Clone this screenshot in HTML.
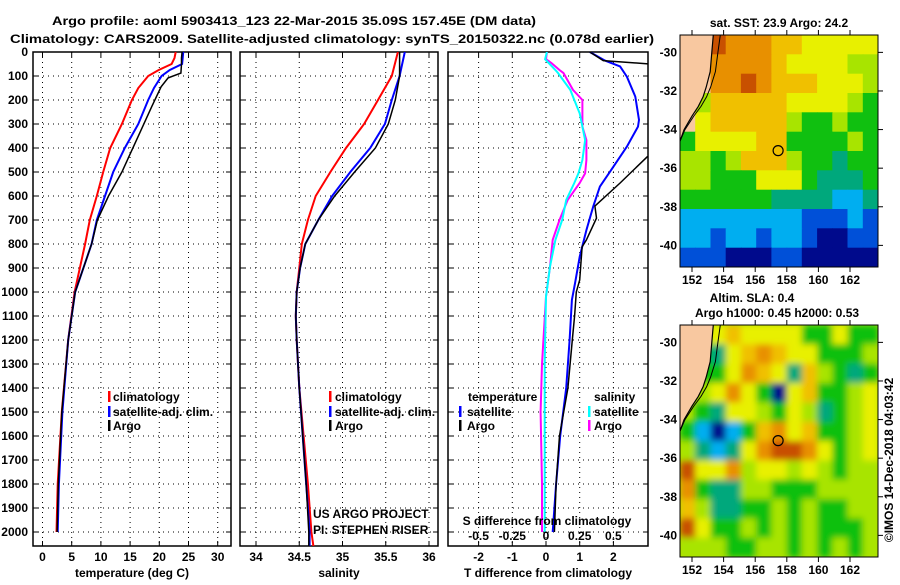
<!DOCTYPE html>
<html><head><meta charset="utf-8"><style>
body{margin:0;background:#fff}
svg text{font-family:"Liberation Sans",sans-serif;font-weight:bold;font-size:12px;fill:#000}
</style></head><body>
<svg id="c" width="900" height="580" xmlns="http://www.w3.org/2000/svg">
<defs>
<clipPath id="cp1"><rect x="33" y="52" width="198" height="494"/></clipPath>
<clipPath id="cp2"><rect x="240" y="52" width="198" height="494"/></clipPath>
<clipPath id="cp3"><rect x="448" y="52" width="200" height="494"/></clipPath>
<clipPath id="cm1"><rect x="680" y="35" width="198" height="232"/></clipPath>
<clipPath id="cm2"><rect x="680" y="325" width="198" height="232"/></clipPath>
<filter id="bl" x="-5%" y="-5%" width="110%" height="110%"><feGaussianBlur stdDeviation="3.2"/></filter>
</defs>
<text x="52" y="25" font-size="14" textLength="484" lengthAdjust="spacingAndGlyphs">Argo profile: aoml 5903413_123 22-Mar-2015 35.09S 157.45E (DM data)</text>
<text x="10" y="43" font-size="14" textLength="644" lengthAdjust="spacingAndGlyphs">Climatology: CARS2009. Satellite-adjusted climatology: synTS_20150322.nc (0.078d earlier)</text>
<g id="g"></g>
</svg>
<script>
// depth grids
const depthT = [0,25,50,75,100,150,200,300,400,500,600,700,800,1000,1200,1500,1800,2000];
const tempClim = [22.8,22.6,22.1,19.9,18.1,16.4,15.3,13.6,11.6,10.4,9.3,8.1,7.3,5.5,4.4,3.3,2.6,2.4];
const tempSat  = [24.1,24.0,23.9,21.8,20.4,19.1,18.1,16.4,14.1,12.1,10.7,9.3,8.4,5.6,4.4,3.4,2.8,2.6];
const depthArgo = [0,25,50,88,108,145,228,367,500,600,700,800,1000,1200,1500,1800,2000];
const tempArgo = [23.9,23.8,23.8,23.7,21.5,20.3,18.7,16.1,13.6,11.3,9.4,8.4,5.6,4.4,3.3,2.7,2.5];
const depthS = [0,100,200,300,400,500,600,700,800,900,1000,1100,1200,1400,1600,1800,2000,2100];
const salClim = [35.64,35.57,35.41,35.25,35.04,34.86,34.69,34.60,34.53,34.50,34.47,34.46,34.47,34.50,34.55,34.60,34.64,34.68];
const salSat  = [35.72,35.66,35.57,35.49,35.32,35.09,34.88,34.72,34.57,34.51,34.47,34.46,34.47,34.50,34.54,34.58,34.62,34.62];
const salArgo = [35.66,35.66,35.61,35.53,35.38,35.14,34.91,34.72,34.57,34.51,34.47,34.46,34.47,34.50,34.54,34.58,34.61,34.61];
const depthD = [0,36,60,103,186,283,311,394,478,561,644,742,853,964,1033,1200,1400,1600,1800,2000];
const tdiffSat = [1.3,1.75,2.2,2.4,2.65,2.76,2.73,2.4,2.0,1.6,1.4,1.2,1.0,0.86,0.77,0.7,0.6,0.42,0.3,0.2];
const depthTA = [0,36,54,100,200,300,437,546,642,692,783,812,950,1000,1100,1200,1400,1600,1800,2000];
const tdiffArgo = [1.3,1.7,3.5,5,5,5,3.0,2.2,1.45,1.5,1.2,1.07,1.0,0.9,0.85,0.78,0.65,0.4,0.3,0.25];
const depthSD = [0,30,46,75,88,158,200,256,311,367,450,506,546,617,700,783,894,1019,1300,1500,1800,2000];
const sdiffArgo = [0.007,0.0,0.04,0.1,0.13,0.2,0.27,0.27,0.27,0.3,0.3,0.29,0.25,0.16,0.1,0.05,0.03,0.0,-0.03,-0.04,-0.03,-0.03];
const sdiffSat  = [0.007,-0.007,0.02,0.07,0.09,0.18,0.21,0.25,0.27,0.29,0.27,0.24,0.21,0.15,0.12,0.07,0.03,0.0,-0.01,-0.01,-0.01,-0.01];
const depthTicks = [0,100,200,300,400,500,600,700,800,900,1000,1100,1200,1300,1400,1500,1600,1700,1800,1900,2000];
const tempTicks = [0,5,10,15,20,25,30];
const salTicks = [34,34.5,35,35.5,36];
const tdTicks = [-2,-1,0,1,2];
const sdTicks = [-0.5,-0.25,0,0.25,0.5];
const sdTickLabels = ["-0.5","-0.25","0","0.25","0.5"];
const lonTicks = [152,154,156,158,160,162];
const latTicks = [-30,-32,-34,-36,-38,-40];
// map grids (13 lon x 12 lat cells, -1 = land)
const sstGrid = [
[-1,-1,9,8,8,8,7,7,6,6,6,6,6],
[-1,-1,8,8,8,8,7,6,6,6,6,5,5],
[-1,-1,8,8,9,8,7,7,7,6,6,6,5],
[-1,5,7,7,7,7,7,6,6,6,6,5,4],
[-1,6,7,7,7,7,7,5,4,4,5,4,4],
[4,6,6,6,6,7,7,4,4,4,4,5,4],
[5,5,4,5,7,7,7,5,4,4,3,4,4],
[5,5,4,4,4,6,6,6,4,3,3,3,4],
[4,4,4,4,4,4,3,3,3,3,2,2,3],
[2,2,2,2,2,2,2,2,1,1,1,2,1],
[2,2,1,2,2,1,2,2,1,0,0,1,1],
[1,1,1,0,0,0,1,1,0,0,0,0,0]];
const slaGrid = [
[-1,5,6,7,6,6,6,6,4,4,6,4,4],
[-1,4,3,6,7,8,7,6,6,4,4,4,5],
[-1,4,4,6,8,7,6,3,7,5,4,3,4],
[-1,5,6,8,6,4,0,6,7,4,4,5,6],
[-1,4,3,6,6,5,4,6,5,3,4,5,6],
[4,2,0,2,4,7,8,6,7,4,4,5,6],
[5,3,2,3,6,8,9,9,8,6,4,5,6],
[9,6,6,8,5,6,6,5,6,5,4,5,5],
[8,4,3,3,5,5,4,4,4,5,5,5,5],
[7,5,3,3,4,4,5,4,5,4,4,5,5],
[9,6,4,4,5,4,5,4,5,4,4,4,5],
[5,5,5,4,4,5,5,4,5,4,5,4,5]];
const coastLon = [153.35,153.25,153.15,152.9,152.7,152.4,152.0,151.5,151.24];
const coastLat = [-29.1,-30,-31,-31.8,-32.3,-32.8,-33.3,-34,-34.6];
const floatLon = 157.45, floatLat = -35.09;

const svg=document.getElementById('g');
const NS='http://www.w3.org/2000/svg';
function el(t,a,p){const e=document.createElementNS(NS,t);for(const k in a)e.setAttribute(k,a[k]);(p||svg).appendChild(e);return e;}
function tx(x,y,s,anchor,extra){const e=el('text',Object.assign({x:x,y:y,'text-anchor':anchor||'start'},extra||{}));e.textContent=s;return e;}
const Y=d=>52+0.24*d;
const panels=[
 {x0:33,x1:231,X:v=>42.5+5.84*v,ticks:tempTicks,labels:tempTicks.map(String),title:'temperature (deg C)',cp:'cp1',name:'temperature'},
 {x0:240,x1:438,X:v=>256+86.5*(v-34),ticks:salTicks,labels:salTicks.map(String),title:'salinity',cp:'cp2',name:'salinity'},
 {x0:448,x1:648,X:v=>546+33.7*v,ticks:tdTicks,labels:tdTicks.map(String),title:'T difference from climatology',cp:'cp3',name:'difference'}];
panels.forEach((p,i)=>{
 const g=el('g',{});
 
 
 depthTicks.forEach(d=>{
  const l=el('line',{x1:p.x0,x2:p.x1,y1:Y(d),y2:Y(d),stroke:'#000','stroke-width':1,'stroke-dasharray':'1 4'},g);
  
  el('line',{x1:p.x0,x2:p.x0+5,y1:Y(d),y2:Y(d),stroke:'#000'},g);
  el('line',{x1:p.x1-5,x2:p.x1,y1:Y(d),y2:Y(d),stroke:'#000'},g);
  if(i===0){const t=tx(28,Y(d)+4,String(d),'end',{});}
 });
 p.ticks.forEach((v,k)=>{
  const x=p.X(v);
  const l=el('line',{x1:x,x2:x,y1:52,y2:546,stroke:'#000','stroke-width':1,'stroke-dasharray':'1 4'},g);
  
  el('line',{x1:x,x2:x,y1:52,y2:57,stroke:'#000'},g);
  el('line',{x1:x,x2:x,y1:541,y2:546,stroke:'#000'},g);
  const t=tx(x,561,p.labels[k],'middle');
  
 });
 const r=el('rect',{x:p.x0,y:52,width:p.x1-p.x0,height:494,fill:'none',stroke:'#000','stroke-width':1.5},g);
 
 const t=tx((p.x0+p.x1)/2,577,p.title,'middle');
 
});
function line(xs,ds,X,col,cp,name,w){
 const pts=xs.map((v,k)=>X(v).toFixed(1)+','+Y(ds[k]).toFixed(1)).join(' ');
 const e=el('polyline',{points:pts,fill:'none',stroke:col,'stroke-width':w||2,'clip-path':'url(#'+cp+')'});
 
 
}
const P=panels;
line(tempClim,depthT,P[0].X,'#f00','cp1','temp-climatology-line');
line(tempSat,depthT,P[0].X,'#00f','cp1','temp-satellite-line');
line(tempArgo,depthArgo,P[0].X,'#000','cp1','temp-argo-line',1.5);
line(salClim,depthS,P[1].X,'#f00','cp2','sal-climatology-line');
line(salSat,depthS,P[1].X,'#00f','cp2','sal-satellite-line');
line(salArgo,depthS,P[1].X,'#000','cp2','sal-argo-line',1.5);
const SX=v=>546+134.8*v;
line(sdiffArgo,depthSD,SX,'#f0f','cp3','sdiff-argo-line');
line(sdiffSat,depthSD,SX,'#0ff','cp3','sdiff-satellite-line');
line(tdiffSat,depthD,P[2].X,'#00f','cp3','tdiff-satellite-line');
line(tdiffArgo,depthTA,P[2].X,'#000','cp3','tdiff-argo-line',1.5);
// legends
function leg(x,tx0,y,col,label,name){
 const m=el('rect',{x:x,y:y-10,width:2.5,height:11,fill:col});
 
 const t=tx(tx0,y,label);
}
leg(108,113,401,'#f00','climatology','legend-climatology');
leg(108,113,416,'#00f','satellite-adj. clim.','legend-satellite');
leg(108,113,430,'#000','Argo','legend-argo');
leg(329,335,401,'#f00','climatology','legend2-climatology');
leg(329,335,416,'#00f','satellite-adj. clim.','legend2-satellite');
leg(329,335,430,'#000','Argo','legend2-argo');
let t=tx(468,401,'temperature');
leg(459,467,416,'#00f','satellite','legend-t-satellite');
leg(459,467,430,'#000','Argo','legend-t-argo');
t=tx(594,401,'salinity');
leg(588,594,416,'#0ff','satellite','legend-s-satellite');
leg(588,594,430,'#f0f','Argo','legend-s-argo');
t=tx(547,525,'S difference from climatology','middle');
sdTicks.forEach((v,k)=>{const e=tx(SX(v),540,sdTickLabels[k],'middle');});
const cg=el('g',{'clip-path':'url(#cp2)'});
t=tx(313,518,'US ARGO PROJECT','start',{'font-weight':'normal','font-size':'13'});cg.appendChild(t);
t=tx(313,534,'PI: STEPHEN RISER','start',{'font-weight':'normal','font-size':'13'});cg.appendChild(t);
// maps
const cmap=['#000a8c','#0050d8','#00aef0','#00a87c','#10c010','#a8e400','#e8f000','#f0c000','#e89000','#c85000'];
function drawMap(grid,top,cp,name,blur){
 const LX=v=>680+(v-151.24)*15.8;
 const LY=v=>top+(-29.1-v)*19.3;
 const g=el('g',{'clip-path':'url(#'+cp+')'});
 
 el('rect',{x:680,y:top,width:198,height:232,fill:blur?'#b0e000':'#f8c8a0'},g);
 const inner=el('g',blur?{filter:'url(#bl)'}:{},g);
 const cw=198/13, ch=232/12;
 grid.forEach((row,r)=>row.forEach((v,c)=>{
  if(v<0) return;
  const e=el('rect',{x:(680+c*cw).toFixed(1),y:(top+r*ch).toFixed(1),width:(cw+0.6).toFixed(1),height:(ch+0.6).toFixed(1),fill:cmap[v]},inner);
  
 }));
 // land overlay
 let lp='680,'+top+' '+coastLon.map((v,k)=>LX(v).toFixed(1)+','+LY(coastLat[k]).toFixed(1)).join(' ')+' 680,'+LY(-34.6).toFixed(1);
 const land=el('polygon',{points:lp,fill:'#f8c8a0'},g);
 
 el('polyline',{points:coastLon.map((v,k)=>LX(v).toFixed(1)+','+LY(coastLat[k]).toFixed(1)).join(' '),fill:'none',stroke:'#000','stroke-width':1.2},g);
 const n=coastLon.length;
 el('polyline',{points:coastLon.map((v,k)=>(LX(v)+7*(1-k/(n-1))).toFixed(1)+','+LY(coastLat[k]).toFixed(1)).join(' '),fill:'none',stroke:'#000','stroke-width':1},g);
 const c=el('circle',{cx:LX(floatLon),cy:LY(floatLat),r:5,fill:'none',stroke:'#000','stroke-width':1.2},g);
 
 const f=el('rect',{x:680,y:top,width:198,height:232,fill:'none',stroke:'#000','stroke-width':1});
 
 lonTicks.forEach(v=>{
  el('line',{x1:LX(v),x2:LX(v),y1:top-5,y2:top,stroke:'#000'});
  el('line',{x1:LX(v),x2:LX(v),y1:top+232,y2:top+237,stroke:'#000'});
  const e=tx(LX(v),top+249,String(v),'middle');
 });
 latTicks.forEach(v=>{
  el('line',{x1:878,x2:883,y1:LY(v),y2:LY(v),stroke:'#000'});
  const e=tx(677,LY(v)+4,String(v),'end');
 });
}
drawMap(sstGrid,35,'cm1','sst-map',false);
drawMap(slaGrid,325,'cm2','sla-map',true);
t=tx(779,27,'sat. SST: 23.9  Argo: 24.2','middle');
t=tx(752,302,'Altim. SLA: 0.4','middle');
t=tx(777,317,'Argo h1000: 0.45 h2000: 0.53','middle');
t=tx(0,0,'©IMOS 14-Dec-2018 04:03:42','middle',{'font-weight':'normal',transform:'translate(893,460) rotate(-90)'});

</script>
</body></html>
